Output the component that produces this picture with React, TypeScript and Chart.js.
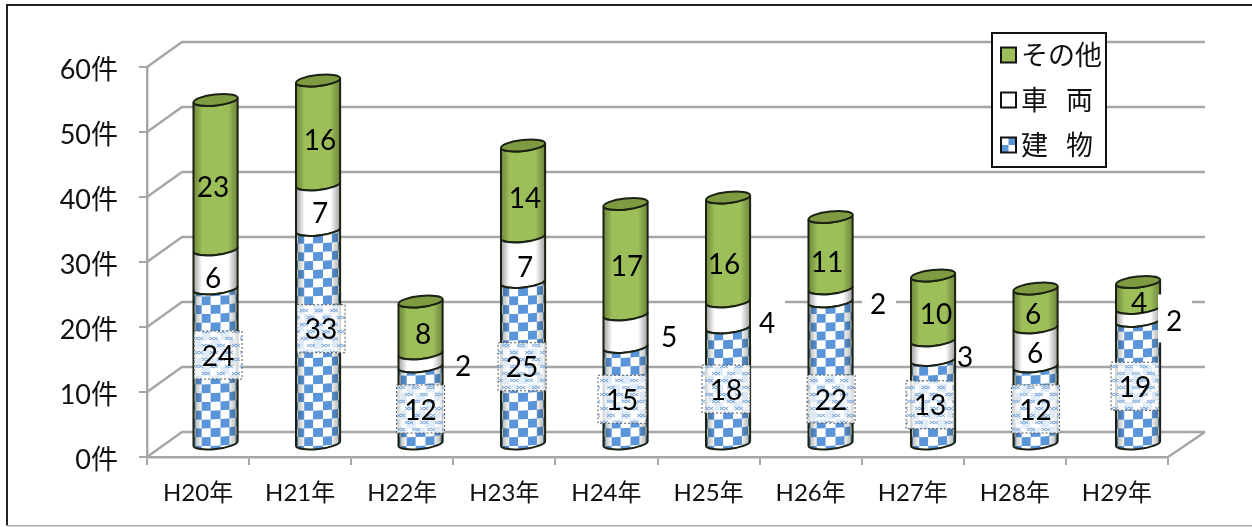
import React, { useEffect, useRef } from "react";
import { Chart, registerables, BarElement } from "chart.js";

Chart.register(...registerables);

const categories = ["H20年", "H21年", "H22年", "H23年", "H24年", "H25年", "H26年", "H27年", "H28年", "H29年"];
const buildings = [24, 33, 12, 25, 15, 18, 22, 13, 12, 19];
const vehicles = [6, 7, 2, 7, 5, 4, 2, 3, 6, 2];
const others = [23, 16, 8, 14, 17, 16, 11, 10, 6, 4];
const yTicks = [0, 10, 20, 30, 40, 50, 60];
const legendItems = ["その他", "車　両", "建　物"];

// Hand placement of the value labels, relative to the middle of their segment.
const buildingShift = [[2.5, -11], [3, -8], [0, 4], [-1, 4], [-3.5, 4], [-2, 3.5], [0.5, 26.5], [-3, 3], [0, 4], [-3, 4]];
const vehicleShift = [[-2.5, 8.5], [2, 5], [42.5, 5.5], [2, 7], [43.5, 6], [39, 8], [47.5, 8.5], [32, 6], [-0.5, 5.5], [36, 6]];
const otherShift = [[-2.5, 12], [2, 7], [2.5, 6], [2, 6.5], [1.5, 6], [-4, 14], [-3.5, 9], [3, 5.5], [-2.5, 5.5], [1, 7.5]];
const shifts = [buildingShift, vehicleShift, otherShift];
const whiteBacked = [false, false, false, false, true, true, true, false, false, true];

const LATIN = "Lato, 'Noto Sans CJK JP', sans-serif";
const CJK = "'Noto Sans CJK JP', sans-serif";
const GRID = "#a6a6a6";
const BLUE = "#5a95da";
const GREEN = "#9dbf59";
const GREEN_TOP = "#7f9b42";
const LINE = "#1b2113";
const DEPTH_X = 35;
const DEPTH_Y = 25;
const RY = 5.5;
const TILT = -0.11;

const barCentre = (x: number, i: number) => x + DEPTH_X / 2 + i * 0.4;

function segmentPath(ctx: CanvasRenderingContext2D, cx: number, yTop: number, yBot: number, rx: number) {
  ctx.beginPath();
  ctx.ellipse(cx, yTop, rx, RY, TILT, 0, Math.PI, false);
  ctx.ellipse(cx, yBot, rx, RY, TILT, Math.PI, 0, true);
  ctx.closePath();
}

function drawChecks(ctx: CanvasRenderingContext2D, cx: number, floorY: number, rx: number, yTop: number) {
  const columns = 7;
  const rowH = 8.8;
  const rows = Math.ceil((floorY - yTop) / rowH) + 3;
  const tan = Math.tan(TILT) * 0.4;
  ctx.fillStyle = BLUE;
  for (let j = -2; j < rows; j++) {
    for (let k = 0; k < columns; k++) {
      if ((((j + k) % 2) + 2) % 2 !== 0) continue;
      const a = -Math.PI / 2 + (k * Math.PI) / columns;
      const b = a + Math.PI / columns;
      const pt = (t: number, row: number) => {
        const dx = rx * Math.sin(t);
        return [cx + dx, floorY - row * rowH + 1.2 * Math.cos(t) + dx * tan];
      };
      const p = [pt(a, j), pt(b, j), pt(b, j + 1), pt(a, j + 1)];
      ctx.beginPath();
      ctx.moveTo(p[0][0], p[0][1]);
      for (let q = 1; q < 4; q++) ctx.lineTo(p[q][0], p[q][1]);
      ctx.closePath();
      ctx.fill();
    }
  }
}

// Every stacked bar element is painted as one segment of a cylinder standing mid-way in the 3D floor.
(BarElement.prototype as any).draw = function (ctx: CanvasRenderingContext2D) {
  const { i, ds, floor } = this.cyl;
  const cx = barCentre(this.x, i);
  const yTop = this.y - DEPTH_Y / 2;
  const yBot = this.base - DEPTH_Y / 2;
  const rx = this.width / 2;
  const floorY = floor - DEPTH_Y / 2;
  ctx.save();
  segmentPath(ctx, cx, yTop, yBot, rx);
  ctx.save();
  ctx.clip();
  ctx.fillStyle = ds === 2 ? GREEN : "#ffffff";
  ctx.fillRect(cx - rx - 2, yTop - 12, rx * 2 + 4, yBot - yTop + 24);
  if (ds === 0) drawChecks(ctx, cx, floorY, rx, yTop);
  const shade = ctx.createLinearGradient(cx - rx, 0, cx + rx, 0);
  const edge = ds === 1 ? "rgba(0,0,0,0.38)" : "rgba(30,40,10,0.36)";
  shade.addColorStop(0, edge);
  shade.addColorStop(0.2, "rgba(0,0,0,0)");
  shade.addColorStop(0.78, "rgba(0,0,0,0)");
  shade.addColorStop(1, edge);
  ctx.fillStyle = shade;
  ctx.fillRect(cx - rx - 2, yTop - 12, rx * 2 + 4, yBot - yTop + 24);
  ctx.restore();
  ctx.strokeStyle = LINE;
  ctx.lineWidth = 2;
  segmentPath(ctx, cx, yTop, yBot, rx);
  ctx.stroke();
  if (ds === 2) {
    ctx.beginPath();
    ctx.ellipse(cx, yTop, rx, RY, TILT, 0, Math.PI * 2);
    ctx.fillStyle = GREEN_TOP;
    ctx.fill();
    ctx.stroke();
  }
  ctx.restore();
};

function hatchPattern(ctx: CanvasRenderingContext2D) {
  const c = document.createElement("canvas");
  c.width = 15;
  c.height = 14;
  const p = c.getContext("2d")!;
  p.fillStyle = "rgba(255,255,255,0.82)";
  p.fillRect(0, 0, 15, 14);
  p.strokeStyle = "rgba(105,155,215,0.9)";
  p.lineWidth = 1;
  p.beginPath();
  for (const [ox, oy] of [[2, 1], [6, 1], [9, 8], [13, 8]]) {
    p.moveTo(ox - 2, oy);
    p.lineTo(ox + 2, oy + 3);
    p.moveTo(ox + 2, oy);
    p.lineTo(ox - 2, oy + 3);
  }
  p.stroke();
  return ctx.createPattern(c, "repeat")!;
}

const frame3d = {
  id: "frame3d",
  beforeDraw(chart: any) {
    const { ctx, width, height } = chart;
    ctx.save();
    ctx.fillStyle = "#ffffff";
    ctx.fillRect(0, 0, width, height);
    ctx.fillStyle = "#222222";
    ctx.fillRect(6, 4, width - 6, 2);
    ctx.fillRect(6, 4, 2, height - 5);
    ctx.fillStyle = "#a8a8a8";
    ctx.fillRect(6, height - 2, width - 6, 1.5);
    ctx.restore();
  },
  beforeDatasetsDraw(chart: any) {
    const { ctx, scales } = chart;
    const left = scales.x.left;
    const right = scales.x.right;
    const floor = scales.y.getPixelForValue(0);
    chart.data.datasets.forEach((_: any, ds: number) => {
      chart.getDatasetMeta(ds).data.forEach((el: any, i: number) => {
        el.cyl = { i, ds, floor };
      });
    });
    ctx.save();
    ctx.strokeStyle = GRID;
    ctx.lineWidth = 2.4;
    ctx.lineCap = "butt";
    ctx.beginPath();
    for (const v of yTicks) {
      const y = scales.y.getPixelForValue(v);
      ctx.moveTo(left, y);
      ctx.lineTo(left + DEPTH_X, y - DEPTH_Y);
      ctx.lineTo(right + DEPTH_X + 2, y - DEPTH_Y);
    }
    ctx.moveTo(right, floor);
    ctx.lineTo(right + DEPTH_X + 2, floor - DEPTH_Y);
    ctx.stroke();
    ctx.restore();
  },
  afterDatasetsDraw(chart: any) {
    const { ctx } = chart;
    const hatch = hatchPattern(ctx);
    ctx.save();
    chart.data.datasets.forEach((dataset: any, ds: number) => {
      chart.getDatasetMeta(ds).data.forEach((el: any, i: number) => {
        const cx = barCentre(el.x, i);
        const mid = (el.y + el.base) / 2 - DEPTH_Y / 2;
        const x = cx + shifts[ds][i][0];
        const y = mid + shifts[ds][i][1];
        if (ds === 0) {
          ctx.fillStyle = hatch;
          ctx.fillRect(x - 24, y - 24, 48, 48);
          ctx.strokeStyle = "#555555";
          ctx.lineWidth = 1;
          ctx.setLineDash([2, 2]);
          ctx.strokeRect(x - 24, y - 24, 48, 48);
          ctx.setLineDash([]);
        } else if (ds === 1 && whiteBacked[i]) {
          ctx.fillStyle = "#ffffff";
          ctx.fillRect(x - 16, y - 26, 34, 48);
        }
        ctx.fillStyle = "#000000";
        ctx.font = `28px ${LATIN}`;
        ctx.textAlign = "center";
        ctx.textBaseline = "middle";
        ctx.fillText(String(dataset.data[i]), x, y + 1.5);
      });
    });
    ctx.restore();
  },
  afterDraw(chart: any) {
    const { ctx } = chart;
    ctx.save();
    ctx.fillStyle = "#ffffff";
    ctx.strokeStyle = "#111111";
    ctx.lineWidth = 2;
    ctx.fillRect(992, 33, 114, 134);
    ctx.strokeRect(992, 33, 114, 134);
    ctx.font = `27px ${CJK}`;
    ctx.textAlign = "left";
    ctx.textBaseline = "middle";
    const rows = [55, 100, 145];
    legendItems.forEach((label, r) => {
      const y = rows[r];
      const sx = 1001;
      const sy = y - 7.5;
      const s = 15;
      ctx.fillStyle = r === 0 ? GREEN : r === 1 ? "#ffffff" : BLUE;
      ctx.fillRect(sx, sy, s, s);
      if (r === 2) {
        ctx.fillStyle = "#ffffff";
        ctx.fillRect(sx, sy, s / 2, s / 2);
        ctx.fillRect(sx + s / 2, sy + s / 2, s / 2, s / 2);
      }
      ctx.strokeRect(sx, sy, s, s);
      ctx.fillStyle = "#111111";
      (ctx as any).letterSpacing = r === 0 ? "0px" : "-4.5px";
      ctx.fillText(label, 1021, y);
      (ctx as any).letterSpacing = "0px";
    });
    ctx.restore();
  },
};

export default function App() {
  const ref = useRef<HTMLCanvasElement>(null);
  useEffect(() => {
    const chart = new Chart(ref.current!, {
      type: "bar",
      data: {
        labels: categories,
        datasets: [
          { label: "建物", data: buildings, backgroundColor: BLUE },
          { label: "車両", data: vehicles, backgroundColor: "#ffffff" },
          { label: "その他", data: others, backgroundColor: GREEN },
        ],
      },
      options: {
        responsive: false,
        animation: false,
        events: [],
        layout: { padding: { top: 67, right: 84, left: 0, bottom: 0 } },
        datasets: { bar: { categoryPercentage: 1, barPercentage: 0.435 } },
        plugins: { legend: { display: false }, title: { display: false }, tooltip: { enabled: false } },
        scales: {
          x: {
            stacked: true,
            offset: true,
            afterFit: (s: any) => { s.height = 70; },
            border: { color: GRID, width: 2.4 },
            grid: { offset: true, drawOnChartArea: false, drawTicks: true, tickLength: 8, color: GRID, lineWidth: 2 },
            ticks: { color: "#111111", font: { family: LATIN, size: 24 }, padding: 14, maxRotation: 0, autoSkip: false },
          },
          y: {
            stacked: true,
            min: 0,
            max: 60,
            afterFit: (s: any) => { s.width = 147; },
            border: { color: GRID, width: 2.4 },
            grid: { drawOnChartArea: false, drawTicks: true, tickLength: 8, color: GRID, lineWidth: 2 },
            ticks: {
              stepSize: 10,
              color: "#111111",
              font: { family: LATIN, size: 27 },
              padding: 21,
              labelOffset: 3,
              callback: (v: any) => `${v}件`,
            },
          },
        },
      },
      plugins: [frame3d],
    } as any);
    return () => chart.destroy();
  }, []);
  return (
    <div style={{ position: "absolute", left: 0, top: 0, width: 1252, height: 527 }}>
      <canvas ref={ref} width={1252} height={527} style={{ display: "block", filter: "blur(0.5px)" }} />
    </div>
  );
}
